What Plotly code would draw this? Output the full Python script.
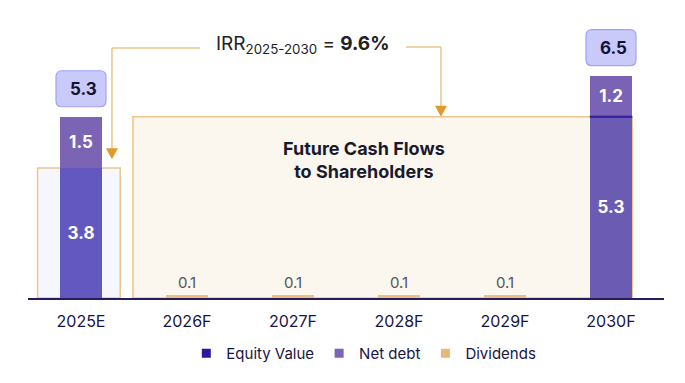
import plotly.graph_objects as go

categories = ["2025E", "2026F", "2027F", "2028F", "2029F", "2030F"]
eq_x = ["2025E", "2030F"]
equity_value = [3.8, 5.3]
net_debt = [1.5, 1.2]
div_x = ["2026F", "2027F", "2028F", "2029F"]
dividends = [0.1, 0.1, 0.1, 0.1]
totals = [5.3, 6.5]
irr_text = "IRR<sub>2025-2030</sub> = <b>9.6%</b>"
box_text = "Future Cash Flows<br>to Shareholders"

FONT = "Inter"
NAVY = "#1A1446"
TAN = "#EBC589"

fig = go.Figure()
fig.add_trace(go.Bar(x=eq_x, y=equity_value, width=0.4, showlegend=False,
                     marker=dict(color=["#6358C0", "#6C5BB3"], line=dict(width=0)),
                     text=[f"{v:.1f}" for v in equity_value], textposition="inside",
                     insidetextanchor="middle",
                     textfont=dict(color="white", size=17, family=FONT, weight="bold")))
fig.add_trace(go.Bar(x=eq_x, y=net_debt, width=0.4, showlegend=False,
                     marker=dict(color=["#7B64B4", "#7A62B5"], line=dict(width=0)),
                     text=[f"{v:.1f}" for v in net_debt], textposition="inside",
                     insidetextanchor="middle",
                     textfont=dict(color="white", size=17, family=FONT, weight="bold")))
fig.add_trace(go.Bar(x=div_x, y=dividends, width=0.4, showlegend=False,
                     marker=dict(color="#EBC183", line=dict(width=0)),
                     text=[f"{v:.1f}" for v in dividends], textposition="outside",
                     textfont=dict(color="#555555", size=15, family=FONT), cliponaxis=False))

# legend entries
for name, col in [("Equity Value", "#2B1A9C"), ("Net debt", "#7C64B8"), ("Dividends", "#E8B878")]:
    fig.add_trace(go.Scatter(x=[None], y=[None], mode="markers", name=name,
                             marker=dict(symbol="square", size=9, color=col)))

shapes = []
# background boxes
shapes.append(dict(type="rect", xref="x", yref="y", x0=-0.41, x1=0.37, y0=0, y1=equity_value[0],
                   fillcolor="#F6F6FE", line=dict(color=TAN, width=1.5), layer="below"))
shapes.append(dict(type="rect", xref="x", yref="y", x0=0.49, x1=5.2, y0=0, y1=equity_value[1],
                   fillcolor="#FCF7EE", line=dict(color=TAN, width=1.5), layer="below"))
# thin dark line at top of 2030 equity segment
shapes.append(dict(type="line", xref="x", yref="y", x0=4.8, x1=5.2, y0=equity_value[1], y1=equity_value[1],
                   line=dict(color="#2B1A9C", width=2)))
# total label boxes (rounded)
rr = "M -19,10 L 19,10 Q 25,10 25,16 L 25,40 Q 25,46 19,46 L -19,46 Q -25,46 -25,40 L -25,16 Q -25,10 -19,10 Z"
for idx, cat in enumerate(eq_x):
    shapes.append(dict(type="path", xref="x", yref="y", xsizemode="pixel", ysizemode="pixel",
                       xanchor=categories.index(cat), yanchor=totals[idx], path=rr,
                       fillcolor="#C9C9FA", line=dict(color="#A3A3F2", width=1.2)))
# IRR connector lines
LINE = "#EBC589"
shapes.append(dict(type="line", xref="x", yref="y", x0=0.292, x1=1.123, y0=7.31, y1=7.31, line=dict(color=LINE, width=1.5)))
shapes.append(dict(type="line", xref="x", yref="y", x0=0.292, x1=0.292, y0=7.31, y1=4.35, line=dict(color=LINE, width=1.5)))
shapes.append(dict(type="line", xref="x", yref="y", x0=3.066, x1=3.396, y0=7.34, y1=7.34, line=dict(color=LINE, width=1.5)))
shapes.append(dict(type="line", xref="x", yref="y", x0=3.396, x1=3.396, y0=7.34, y1=5.6, line=dict(color=LINE, width=1.5)))
tri = "M -6,11 L 6,11 L 0,0 Z"
for tx, ty in [(0.292, 4.06), (3.396, 5.3)]:
    shapes.append(dict(type="path", xref="x", yref="y", xsizemode="pixel", ysizemode="pixel",
                       xanchor=tx, yanchor=ty, path=tri, fillcolor="#E09A2C", line=dict(width=0)))

annotations = []
for idx, cat in enumerate(eq_x):
    annotations.append(dict(x=cat, y=totals[idx], xref="x", yref="y", text=f"<b>{totals[idx]:.1f}</b>",
                            showarrow=False, yshift=28, xshift=2,
                            font=dict(size=17, color="#111133", family=FONT)))
annotations.append(dict(x=2.09, y=7.4, xref="x", yref="y", text=irr_text, showarrow=False,
                        font=dict(size=19, color="#222222", family=FONT)))
annotations.append(dict(x=2.67, y=4.03, xref="x", yref="y", text=box_text, showarrow=False,
                        font=dict(size=18, color="#1A1A2E", family=FONT, weight="bold")))

# page body has an 8px margin: shift the plot area so it lands at the reference pixels
fig.update_layout(
    width=685, height=383, autosize=False,
    margin=dict(l=20, r=29, t=12, b=93),
    barmode="stack", plot_bgcolor="white", paper_bgcolor="white",
    shapes=shapes, annotations=annotations,
    font=dict(family=FONT, color=NAVY),
    legend=dict(orientation="h", x=0.528, xanchor="center", y=-0.2, yanchor="middle",
                traceorder="normal",
                font=dict(size=15, color=NAVY, family=FONT), itemwidth=30),
    xaxis=dict(type="category", categoryorder="array", categoryarray=categories,
               range=[-0.5, 5.5], showline=True, linecolor="#2A1A5E", linewidth=2,
               ticks="", ticklabelstandoff=8,
               tickfont=dict(size=16, color=NAVY, family=FONT), showgrid=False,
               fixedrange=True),
    yaxis=dict(range=[0, 278 / 34.2], visible=False, showgrid=False, fixedrange=True),
)

fig.write_html("out.html")
